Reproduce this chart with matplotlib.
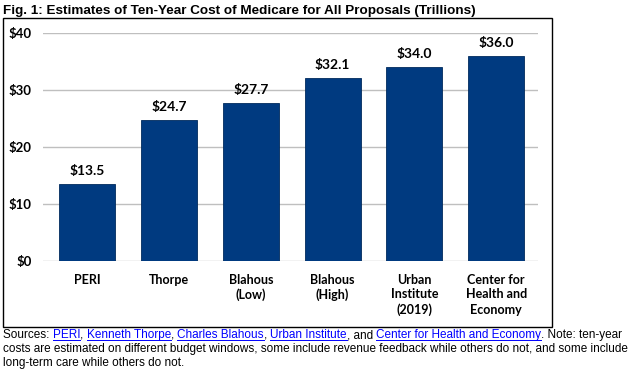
import matplotlib
matplotlib.use("Agg")
import matplotlib.pyplot as plt
from matplotlib.patches import Rectangle
from matplotlib.lines import Line2D

categories = ["PERI", "Thorpe", "Blahous\n(Low)", "Blahous\n(High)",
              "Urban\nInstitute\n(2019)", "Center for\nHealth and\nEconomy"]
costs = [13.5, 24.7, 27.7, 32.1, 34.0, 36.0]
yticks = [0, 10, 20, 30, 40]

title = "Fig. 1: Estimates of Ten-Year Cost of Medicare for All Proposals (Trillions)"
# (text, is_link) pieces for the source note, one list per line
note_lines = [
    [("Sources: ", False), ("PERI", True), (", ", False), ("Kenneth Thorpe", True),
     (", ", False), ("Charles Blahous", True), (", ", False), ("Urban Institute", True),
     (", and ", False), ("Center for Health and Economy", True),
     (". Note: ten-year", False)],
    [("costs are estimated on different budget windows, some include revenue feedback "
      "while others do not, and some include", False)],
    [("long-term care while others do not.", False)],
]

W, H = 633, 376
fig = plt.figure(figsize=(W / 100, H / 100), dpi=100)

bar_color = "#003A80"
label_font = ["Lato", "DejaVu Sans"]
note_font = ["Liberation Sans", "DejaVu Sans"]

# frame around chart
fig.patches.append(Rectangle((3 / W, 1 - 327 / H), 549 / W, 309 / H,
                             transform=fig.transFigure, fill=False,
                             edgecolor="black", linewidth=1))

ax = fig.add_axes([43 / W, 1 - 261 / H, 495 / W, 228 / H])
x = list(range(len(categories)))
ax.bar(x, costs, width=0.685, color=bar_color, edgecolor="#002a5c", linewidth=0.6, zorder=3)
for xi, v in zip(x, costs):
    ax.annotate(f"${v:.1f}", (xi, v), xytext=(0, 5), textcoords="offset points",
                ha="center", va="bottom", fontsize=10, fontweight="bold",
                family=label_font, color="#000000")

ax.set_xlim(-0.54, 5.51)
ax.set_ylim(0, 40)
ax.set_yticks(yticks)
ax.set_yticklabels([f"${t}" for t in yticks], fontsize=9.5, fontweight="bold",
                   family=label_font)
ax.yaxis.grid(True, color="#bfbfbf", linewidth=1, zorder=0)
ax.tick_params(axis="y", length=0, pad=8)
ax.set_xticks(x)
ax.set_xticklabels(categories, fontsize=9, fontweight="bold", family=label_font,
                   linespacing=1.3, va="top")
ax.tick_params(axis="x", length=0, pad=9)
for s in ax.spines.values():
    s.set_visible(False)

fig.text(3 / W, 1 - 11 / H, title, fontsize=9.7, fontweight="bold",
         family=["Liberation Sans Narrow", "Liberation Sans", "DejaVu Sans"],
         ha="left", va="center")

# source note with link-styled pieces
fig.canvas.draw()
renderer = fig.canvas.get_renderer()
line_y = [335, 349, 363]
for pieces, ly in zip(note_lines, line_y):
    xpos = 3
    for text, link in pieces:
        t = fig.text(xpos / W, 1 - ly / H, text, fontsize=8.5, family=note_font,
                     color="#0000ff" if link else "#000000", ha="left", va="center")
        bb = t.get_window_extent(renderer)
        if link:
            uy = 1 - (ly + 5) / H
            fig.lines.append(Line2D([bb.x0 / W, bb.x1 / W], [uy, uy],
                                    transform=fig.transFigure, color="#0000ff",
                                    linewidth=0.7))
        xpos = bb.x1

fig.savefig("out.png", dpi=100)
